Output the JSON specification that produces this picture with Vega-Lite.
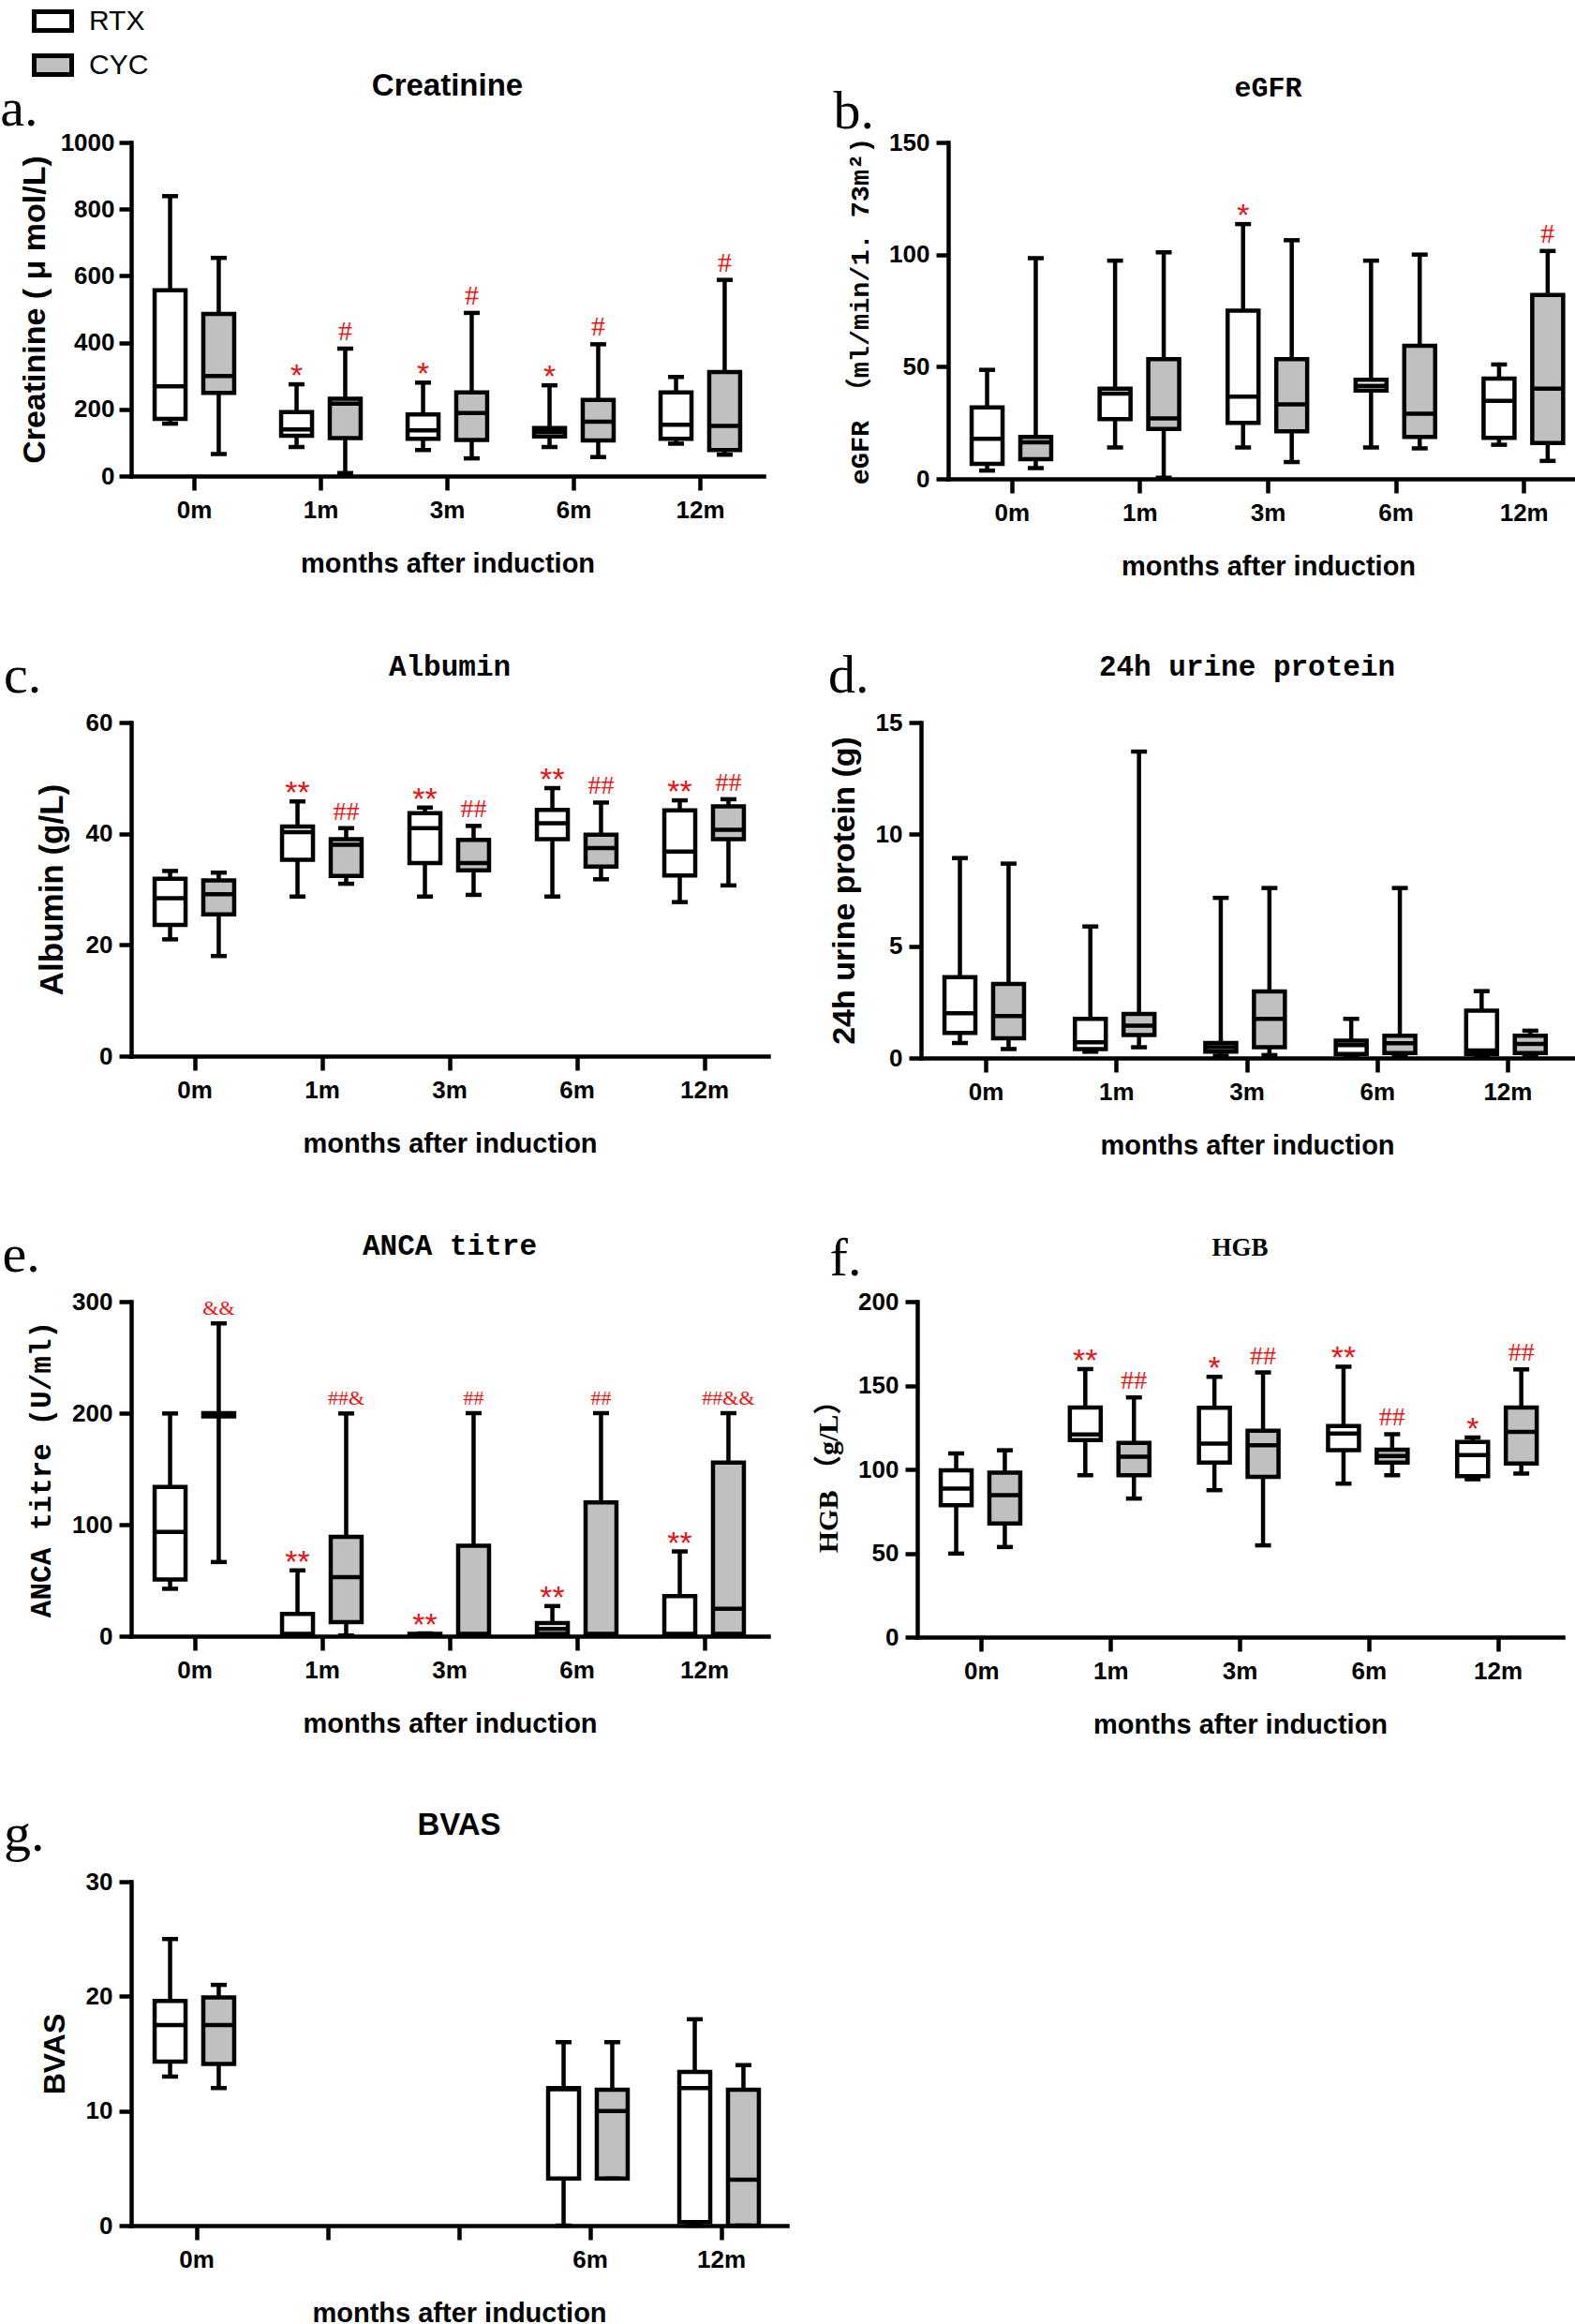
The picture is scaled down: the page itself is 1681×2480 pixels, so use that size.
{
"$schema": "https://vega.github.io/schema/vega-lite/v6.json",
"background": "white",
"padding": {"top": 0, "left": 0, "right": 0, "bottom": 0},
"config": {
  "view": {"stroke": null},
  "axis": {"grid": false, "domainColor": "black", "domainWidth": 4.5, "domainCap": "square", "tickColor": "black", "tickWidth": 4.5, "tickSize": 13, "labelFont": "Liberation Sans", "labelFontWeight": "bold", "labelFontSize": 26, "labelColor": "black", "titleColor": "black", "titleFont": "Liberation Sans", "titleFontWeight": "bold", "titleFontSize": 29},
  "axisX": {"labelAngle": 0, "labelPadding": 8, "titlePadding": 30, "tickSize": 15},
  "axisY": {"labelPadding": 7, "titlePadding": 16, "format": "d"},
  "title": {"color": "black"}
},
"datasets": {
"d": [
{"panel":"a","month":"0m","group":"RTX","min":157,"q1":171,"median":269,"q3":557,"max":839},
{"panel":"a","month":"0m","group":"CYC","min":66,"q1":249,"median":300,"q3":486,"max":654},
{"panel":"a","month":"1m","group":"RTX","min":87,"q1":121,"median":140,"q3":192,"max":275,"sig":"*"},
{"panel":"a","month":"1m","group":"CYC","min":9,"q1":114,"median":217,"q3":232,"max":382,"sig":"#"},
{"panel":"a","month":"3m","group":"RTX","min":78,"q1":112,"median":137,"q3":185,"max":280,"sig":"*"},
{"panel":"a","month":"3m","group":"CYC","min":53,"q1":108,"median":189,"q3":251,"max":489,"sig":"#"},
{"panel":"a","month":"6m","group":"RTX","min":87,"q1":119,"median":132,"q3":144,"max":272,"sig":"*"},
{"panel":"a","month":"6m","group":"CYC","min":57,"q1":107,"median":163,"q3":228,"max":395,"sig":"#"},
{"panel":"a","month":"12m","group":"RTX","min":97,"q1":112,"median":154,"q3":251,"max":297},
{"panel":"a","month":"12m","group":"CYC","min":64,"q1":78,"median":150,"q3":312,"max":588,"sig":"#"},
{"panel":"b","month":"0m","group":"RTX","min":3.7,"q1":6.7,"median":17.9,"q3":31.9,"max":48.6},
{"panel":"b","month":"0m","group":"CYC","min":4.8,"q1":8.8,"median":16.3,"q3":18.7,"max":98.4},
{"panel":"b","month":"1m","group":"RTX","min":14,"q1":26.6,"median":38,"q3":40.2,"max":97.3},
{"panel":"b","month":"1m","group":"CYC","min":0.5,"q1":22.3,"median":27,"q3":53.4,"max":101},
{"panel":"b","month":"3m","group":"RTX","min":14,"q1":25,"median":36.7,"q3":75,"max":113.6,"sig":"*"},
{"panel":"b","month":"3m","group":"CYC","min":7.5,"q1":21.2,"median":33.2,"q3":53.4,"max":106.4},
{"panel":"b","month":"6m","group":"RTX","min":14,"q1":39.4,"median":41.5,"q3":44.2,"max":97.3},
{"panel":"b","month":"6m","group":"CYC","min":13.6,"q1":18.7,"median":29,"q3":59.3,"max":100},
{"panel":"b","month":"12m","group":"RTX","min":15.2,"q1":18.3,"median":34.8,"q3":44.7,"max":51},
{"panel":"b","month":"12m","group":"CYC","min":8,"q1":16,"median":40.2,"q3":82,"max":101.6,"sig":"#"},
{"panel":"c","month":"0m","group":"RTX","min":21,"q1":23.6,"median":28.4,"q3":31.9,"max":33.3},
{"panel":"c","month":"0m","group":"CYC","min":18,"q1":25.5,"median":29.1,"q3":31.6,"max":33},
{"panel":"c","month":"1m","group":"RTX","min":28.7,"q1":35.3,"median":40.3,"q3":41.3,"max":45.8,"sig":"**"},
{"panel":"c","month":"1m","group":"CYC","min":31,"q1":32.4,"median":38,"q3":39,"max":41,"sig":"##"},
{"panel":"c","month":"3m","group":"RTX","min":28.7,"q1":34.7,"median":41,"q3":43.7,"max":44.7,"sig":"**"},
{"panel":"c","month":"3m","group":"CYC","min":29,"q1":33.4,"median":34.7,"q3":38.9,"max":41.4,"sig":"##"},
{"panel":"c","month":"6m","group":"RTX","min":28.7,"q1":39,"median":41.9,"q3":44.3,"max":48.2,"sig":"**"},
{"panel":"c","month":"6m","group":"CYC","min":31.8,"q1":34.1,"median":37.4,"q3":39.8,"max":45.6,"sig":"##"},
{"panel":"c","month":"12m","group":"RTX","min":27.7,"q1":32.5,"median":36.8,"q3":44.2,"max":46,"sig":"**"},
{"panel":"c","month":"12m","group":"CYC","min":30.7,"q1":39,"median":40.7,"q3":44.9,"max":46.2,"sig":"##"},
{"panel":"d","month":"0m","group":"RTX","min":0.67,"q1":1.12,"median":2.0,"q3":3.61,"max":8.94},
{"panel":"d","month":"0m","group":"CYC","min":0.4,"q1":0.88,"median":1.87,"q3":3.31,"max":8.69},
{"panel":"d","month":"1m","group":"RTX","min":0.28,"q1":0.4,"median":0.7,"q3":1.75,"max":5.88},
{"panel":"d","month":"1m","group":"CYC","min":0.48,"q1":1.03,"median":1.45,"q3":1.97,"max":13.7},
{"panel":"d","month":"3m","group":"RTX","min":0.1,"q1":0.28,"median":0.48,"q3":0.67,"max":7.16},
{"panel":"d","month":"3m","group":"CYC","min":0.13,"q1":0.48,"median":1.75,"q3":2.97,"max":7.6},
{"panel":"d","month":"6m","group":"RTX","min":0.1,"q1":0.18,"median":0.58,"q3":0.78,"max":1.75},
{"panel":"d","month":"6m","group":"CYC","min":0.1,"q1":0.22,"median":0.66,"q3":1.0,"max":7.6},
{"panel":"d","month":"12m","group":"RTX","min":0.1,"q1":0.18,"median":0.33,"q3":2.12,"max":2.99},
{"panel":"d","month":"12m","group":"CYC","min":0.13,"q1":0.22,"median":0.63,"q3":1.0,"max":1.22},
{"panel":"e","month":"0m","group":"RTX","min":42.5,"q1":50.9,"median":93.4,"q3":133.8,"max":199.7},
{"panel":"e","month":"0m","group":"CYC","min":66.5,"q1":197,"median":199,"q3":200,"max":280.5,"sig":"&&"},
{"panel":"e","month":"1m","group":"RTX","min":0.5,"q1":1,"median":2,"q3":20,"max":59,"sig":"**"},
{"panel":"e","month":"1m","group":"CYC","min":0.6,"q1":12.6,"median":53,"q3":89,"max":199.7,"sig":"##&"},
{"panel":"e","month":"3m","group":"RTX","min":0.5,"q1":1,"median":1.5,"q3":2,"max":2.5,"sig":"**"},
{"panel":"e","month":"3m","group":"CYC","min":0.5,"q1":1,"median":2,"q3":81,"max":200,"sig":"##"},
{"panel":"e","month":"6m","group":"RTX","min":0.6,"q1":2,"median":6.6,"q3":11.7,"max":27,"sig":"**"},
{"panel":"e","month":"6m","group":"CYC","min":0.5,"q1":1,"median":2,"q3":120,"max":200,"sig":"##"},
{"panel":"e","month":"12m","group":"RTX","min":0.5,"q1":1,"median":2,"q3":36,"max":76,"sig":"**"},
{"panel":"e","month":"12m","group":"CYC","min":0.5,"q1":2,"median":24.5,"q3":155.7,"max":200,"sig":"##&&"},
{"panel":"f","month":"0m","group":"RTX","min":49.8,"q1":78.6,"median":88.6,"q3":99.5,"max":109.5},
{"panel":"f","month":"0m","group":"CYC","min":53.7,"q1":67.7,"median":84.6,"q3":98.1,"max":111.4},
{"panel":"f","month":"1m","group":"RTX","min":96.5,"q1":117.4,"median":120.8,"q3":136.9,"max":159.8,"sig":"**"},
{"panel":"f","month":"1m","group":"CYC","min":82.6,"q1":96.5,"median":107.5,"q3":115.8,"max":142.9,"sig":"##"},
{"panel":"f","month":"3m","group":"RTX","min":87.6,"q1":104.1,"median":115.4,"q3":136.7,"max":155.2,"sig":"*"},
{"panel":"f","month":"3m","group":"CYC","min":54.7,"q1":95.5,"median":114.4,"q3":123,"max":157.8,"sig":"##"},
{"panel":"f","month":"6m","group":"RTX","min":91.5,"q1":111.4,"median":121.4,"q3":125.8,"max":161.2,"sig":"**"},
{"panel":"f","month":"6m","group":"CYC","min":96.5,"q1":104,"median":108,"q3":111.8,"max":121,"sig":"##"},
{"panel":"f","month":"12m","group":"RTX","min":94.1,"q1":95.9,"median":108.5,"q3":116.4,"max":119,"sig":"*"},
{"panel":"f","month":"12m","group":"CYC","min":97.5,"q1":103.5,"median":122.4,"q3":136.9,"max":159.6,"sig":"##"},
{"panel":"g","month":"0m","group":"RTX","min":13,"q1":14.3,"median":17.5,"q3":19.6,"max":25},
{"panel":"g","month":"0m","group":"CYC","min":12,"q1":14.1,"median":17.5,"q3":19.9,"max":21},
{"panel":"g","month":"6m","group":"RTX","min":0,"q1":4.1,"median":11.9,"q3":12,"max":16},
{"panel":"g","month":"6m","group":"CYC","min":4.1,"q1":4.1,"median":10,"q3":11.85,"max":16},
{"panel":"g","month":"12m","group":"RTX","min":0,"q1":0.3,"median":12,"q3":13.4,"max":18},
{"panel":"g","month":"12m","group":"CYC","min":0,"q1":0,"median":4,"q3":11.85,"max":14}
]
},
"align": "none",
"spacing": 74,
"vconcat": [
{"spacing": 74, "hconcat": [
 {"title": {"text": "a.", "anchor": "start", "frame": "bounds", "font": "Liberation Serif", "fontSize": 58, "fontWeight": "normal", "offset": 0, "dy": 70, "dx": -20},
  "vconcat": [{
   "width": 675, "height": 356,
   "title": {"text": "Creatinine", "font": "Liberation Sans", "fontSize": 33, "fontWeight": "bold", "offset": 30},
   "data": {"name": "d"},
   "transform": [{"filter": "datum.panel == 'a'"}],
   "encoding": {
     "x": {"field": "month", "type": "ordinal", "scale": {"domain": ["0m","1m","3m","6m","12m"], "paddingInner": 0, "paddingOuter": 0}, "title": "months after induction"},
     "xOffset": {"field": "group", "type": "nominal", "scale": {"domain": ["RTX","CYC"], "paddingInner": 0, "paddingOuter": 0.3}}
   },
   "layer": [
     {"mark": {"type": "rule", "color": "black", "strokeWidth": 4.5}, "encoding": {"y": {"field": "min", "type": "quantitative", "title": "Creatinine ( μ mol/L)", "scale": {"domain": [0,1000], "nice": false}, "axis": {"values": [0,200,400,600,800,1000], "titleFontSize": 34, "titlePadding": 10, "labelPadding": 5}}, "y2": {"field": "max"}}},
     {"mark": {"type": "bar", "size": 33, "stroke": "black", "strokeWidth": 4.5}, "encoding": {"y": {"field": "q1", "type": "quantitative", "title": "Creatinine ( μ mol/L)"}, "y2": {"field": "q3"}, "fill": {"field": "group", "type": "nominal", "scale": {"domain": ["RTX","CYC"], "range": ["#ffffff","#c0c0c0"]}, "legend": {"orient": "none", "legendX": -106, "legendY": -152, "title": null, "symbolType": "M-1,-0.5H1V0.5H-1Z", "symbolSize": 1600, "symbolStrokeColor": "black", "symbolStrokeWidth": 5, "symbolOpacity": 1, "labelFont": "Liberation Sans", "labelFontSize": 30, "labelFontWeight": "normal", "labelColor": "black", "rowPadding": 4, "labelOffset": 16}}}},
     {"mark": {"type": "tick", "size": 33, "thickness": 4.5, "color": "black", "opacity": 1}, "encoding": {"y": {"field": "median", "type": "quantitative", "title": "Creatinine ( μ mol/L)"}}},
     {"mark": {"type": "tick", "size": 17, "thickness": 4.5, "color": "black", "opacity": 1}, "encoding": {"y": {"field": "min", "type": "quantitative", "title": "Creatinine ( μ mol/L)"}}},
     {"mark": {"type": "tick", "size": 17, "thickness": 4.5, "color": "black", "opacity": 1}, "encoding": {"y": {"field": "max", "type": "quantitative", "title": "Creatinine ( μ mol/L)"}}},
     {"transform": [{"filter": "datum.group == 'RTX' && isValid(datum.sig)"}], "mark": {"type": "text", "font": "Liberation Sans", "fontSize": 34, "color": "#ee1111", "baseline": "alphabetic", "dy": 2}, "encoding": {"y": {"field": "max", "type": "quantitative", "title": "Creatinine ( μ mol/L)"}, "text": {"field": "sig"}}},
     {"transform": [{"filter": "datum.group == 'CYC' && isValid(datum.sig)"}], "mark": {"type": "text", "font": "Liberation Serif", "fontSize": 30, "color": "#ee1111", "baseline": "alphabetic", "dy": -9}, "encoding": {"y": {"field": "max", "type": "quantitative", "title": "Creatinine ( μ mol/L)"}, "text": {"field": "sig"}}}
   ]
  }]
 },
 {"title": {"text": "b.", "anchor": "start", "frame": "bounds", "font": "Liberation Serif", "fontSize": 58, "fontWeight": "normal", "offset": 0, "dy": 70, "dx": -14},
  "vconcat": [{
   "width": 683, "height": 359,
   "title": {"text": "eGFR", "font": "Liberation Mono", "fontSize": 30, "fontWeight": "bold", "offset": 30},
   "data": {"name": "d"},
   "transform": [{"filter": "datum.panel == 'b'"}],
   "encoding": {
     "x": {"field": "month", "type": "ordinal", "scale": {"domain": ["0m","1m","3m","6m","12m"], "paddingInner": 0, "paddingOuter": 0}, "title": "months after induction"},
     "xOffset": {"field": "group", "type": "nominal", "scale": {"domain": ["RTX","CYC"], "paddingInner": 0, "paddingOuter": 0.3}}
   },
   "layer": [
     {"mark": {"type": "rule", "color": "black", "strokeWidth": 4.5}, "encoding": {"y": {"field": "min", "type": "quantitative", "title": "eGFR （ml/min/1. 73m²)", "scale": {"domain": [0,150], "nice": false}, "axis": {"values": [0,50,100,150], "titleFont": "Liberation Mono, Noto Sans CJK SC", "titleFontSize": 28.5}}, "y2": {"field": "max"}}},
     {"mark": {"type": "bar", "size": 33, "stroke": "black", "strokeWidth": 4.5}, "encoding": {"y": {"field": "q1", "type": "quantitative", "title": "eGFR （ml/min/1. 73m²)"}, "y2": {"field": "q3"}, "fill": {"field": "group", "type": "nominal", "scale": {"domain": ["RTX","CYC"], "range": ["#ffffff","#c0c0c0"]}}}},
     {"mark": {"type": "tick", "size": 33, "thickness": 4.5, "color": "black", "opacity": 1}, "encoding": {"y": {"field": "median", "type": "quantitative", "title": "eGFR （ml/min/1. 73m²)"}}},
     {"mark": {"type": "tick", "size": 17, "thickness": 4.5, "color": "black", "opacity": 1}, "encoding": {"y": {"field": "min", "type": "quantitative", "title": "eGFR （ml/min/1. 73m²)"}}},
     {"mark": {"type": "tick", "size": 17, "thickness": 4.5, "color": "black", "opacity": 1}, "encoding": {"y": {"field": "max", "type": "quantitative", "title": "eGFR （ml/min/1. 73m²)"}}},
     {"transform": [{"filter": "datum.group == 'RTX' && isValid(datum.sig)"}], "mark": {"type": "text", "font": "Liberation Sans", "fontSize": 34, "color": "#ee1111", "baseline": "alphabetic", "dy": 2}, "encoding": {"y": {"field": "max", "type": "quantitative", "title": "eGFR （ml/min/1. 73m²)"}, "text": {"field": "sig"}}},
     {"transform": [{"filter": "datum.group == 'CYC' && isValid(datum.sig)"}], "mark": {"type": "text", "font": "Liberation Serif", "fontSize": 30, "color": "#ee1111", "baseline": "alphabetic", "dy": -9}, "encoding": {"y": {"field": "max", "type": "quantitative", "title": "eGFR （ml/min/1. 73m²)"}, "text": {"field": "sig"}}}
   ]
  }]
 }
]},
{"spacing": 64, "hconcat": [
 {"title": {"text": "c.", "anchor": "start", "frame": "bounds", "font": "Liberation Serif", "fontSize": 58, "fontWeight": "normal", "offset": 0, "dy": 55, "dx": -34},
  "vconcat": [{
   "width": 680, "height": 356,
   "title": {"text": "Albumin", "font": "Liberation Mono", "fontSize": 31, "fontWeight": "bold", "offset": 30},
   "data": {"name": "d"},
   "transform": [{"filter": "datum.panel == 'c'"}],
   "encoding": {
     "x": {"field": "month", "type": "ordinal", "scale": {"domain": ["0m","1m","3m","6m","12m"], "paddingInner": 0, "paddingOuter": 0}, "title": "months after induction"},
     "xOffset": {"field": "group", "type": "nominal", "scale": {"domain": ["RTX","CYC"], "paddingInner": 0, "paddingOuter": 0.3}}
   },
   "layer": [
     {"mark": {"type": "rule", "color": "black", "strokeWidth": 4.5}, "encoding": {"y": {"field": "min", "type": "quantitative", "title": "Albumin (g/L)", "scale": {"domain": [0,60], "nice": false}, "axis": {"values": [0,20,40,60], "titleFontSize": 35, "titlePadding": 18}}, "y2": {"field": "max"}}},
     {"mark": {"type": "bar", "size": 33, "stroke": "black", "strokeWidth": 4.5}, "encoding": {"y": {"field": "q1", "type": "quantitative", "title": "Albumin (g/L)"}, "y2": {"field": "q3"}, "fill": {"field": "group", "type": "nominal", "scale": {"domain": ["RTX","CYC"], "range": ["#ffffff","#c0c0c0"]}}}},
     {"mark": {"type": "tick", "size": 33, "thickness": 4.5, "color": "black", "opacity": 1}, "encoding": {"y": {"field": "median", "type": "quantitative", "title": "Albumin (g/L)"}}},
     {"mark": {"type": "tick", "size": 17, "thickness": 4.5, "color": "black", "opacity": 1}, "encoding": {"y": {"field": "min", "type": "quantitative", "title": "Albumin (g/L)"}}},
     {"mark": {"type": "tick", "size": 17, "thickness": 4.5, "color": "black", "opacity": 1}, "encoding": {"y": {"field": "max", "type": "quantitative", "title": "Albumin (g/L)"}}},
     {"transform": [{"filter": "datum.group == 'RTX' && isValid(datum.sig)"}], "mark": {"type": "text", "font": "Liberation Sans", "fontSize": 34, "color": "#ee1111", "baseline": "alphabetic", "dy": 2}, "encoding": {"y": {"field": "max", "type": "quantitative", "title": "Albumin (g/L)"}, "text": {"field": "sig"}}},
     {"transform": [{"filter": "datum.group == 'CYC' && isValid(datum.sig)"}], "mark": {"type": "text", "font": "Liberation Serif", "fontSize": 28, "color": "#ee1111", "baseline": "alphabetic", "dy": -9}, "encoding": {"y": {"field": "max", "type": "quantitative", "title": "Albumin (g/L)"}, "text": {"field": "sig"}}}
   ]
  }]
 },
 {"title": {"text": "d.", "anchor": "start", "frame": "bounds", "font": "Liberation Serif", "fontSize": 58, "fontWeight": "normal", "offset": 0, "dy": 55, "dx": 0},
  "vconcat": [{
   "width": 696, "height": 358,
   "title": {"text": "24h urine protein", "font": "Liberation Mono", "fontSize": 31, "fontWeight": "bold", "offset": 30},
   "data": {"name": "d"},
   "transform": [{"filter": "datum.panel == 'd'"}],
   "encoding": {
     "x": {"field": "month", "type": "ordinal", "scale": {"domain": ["0m","1m","3m","6m","12m"], "paddingInner": 0, "paddingOuter": 0}, "title": "months after induction"},
     "xOffset": {"field": "group", "type": "nominal", "scale": {"domain": ["RTX","CYC"], "paddingInner": 0, "paddingOuter": 0.3}}
   },
   "layer": [
     {"mark": {"type": "rule", "color": "black", "strokeWidth": 4.5}, "encoding": {"y": {"field": "min", "type": "quantitative", "title": "24h urine protein (g)", "scale": {"domain": [0,15], "nice": false}, "axis": {"values": [0,5,10,15], "titleFontSize": 34}}, "y2": {"field": "max"}}},
     {"mark": {"type": "bar", "size": 33, "stroke": "black", "strokeWidth": 4.5}, "encoding": {"y": {"field": "q1", "type": "quantitative", "title": "24h urine protein (g)"}, "y2": {"field": "q3"}, "fill": {"field": "group", "type": "nominal", "scale": {"domain": ["RTX","CYC"], "range": ["#ffffff","#c0c0c0"]}}}},
     {"mark": {"type": "tick", "size": 33, "thickness": 4.5, "color": "black", "opacity": 1}, "encoding": {"y": {"field": "median", "type": "quantitative", "title": "24h urine protein (g)"}}},
     {"mark": {"type": "tick", "size": 17, "thickness": 4.5, "color": "black", "opacity": 1}, "encoding": {"y": {"field": "min", "type": "quantitative", "title": "24h urine protein (g)"}}},
     {"mark": {"type": "tick", "size": 17, "thickness": 4.5, "color": "black", "opacity": 1}, "encoding": {"y": {"field": "max", "type": "quantitative", "title": "24h urine protein (g)"}}}
   ]
  }]
 }
]},
{"spacing": 49, "hconcat": [
 {"title": {"text": "e.", "anchor": "start", "frame": "bounds", "font": "Liberation Serif", "fontSize": 58, "fontWeight": "normal", "offset": 0, "dy": 55, "dx": -26},
  "vconcat": [{
   "width": 680, "height": 357,
   "title": {"text": "ANCA titre", "font": "Liberation Mono", "fontSize": 31, "fontWeight": "bold", "offset": 30},
   "data": {"name": "d"},
   "transform": [{"filter": "datum.panel == 'e'"}],
   "encoding": {
     "x": {"field": "month", "type": "ordinal", "scale": {"domain": ["0m","1m","3m","6m","12m"], "paddingInner": 0, "paddingOuter": 0}, "title": "months after induction"},
     "xOffset": {"field": "group", "type": "nominal", "scale": {"domain": ["RTX","CYC"], "paddingInner": 0, "paddingOuter": 0.3}}
   },
   "layer": [
     {"mark": {"type": "rule", "color": "black", "strokeWidth": 4.5}, "encoding": {"y": {"field": "min", "type": "quantitative", "title": "ANCA  titre  (U/ml)", "scale": {"domain": [0,300], "nice": false}, "axis": {"values": [0,100,200,300], "titleFont": "Liberation Mono", "titleFontSize": 31}}, "y2": {"field": "max"}}},
     {"mark": {"type": "bar", "size": 33, "stroke": "black", "strokeWidth": 4.5}, "encoding": {"y": {"field": "q1", "type": "quantitative", "title": "ANCA  titre  (U/ml)"}, "y2": {"field": "q3"}, "fill": {"field": "group", "type": "nominal", "scale": {"domain": ["RTX","CYC"], "range": ["#ffffff","#c0c0c0"]}}}},
     {"mark": {"type": "tick", "size": 33, "thickness": 4.5, "color": "black", "opacity": 1}, "encoding": {"y": {"field": "median", "type": "quantitative", "title": "ANCA  titre  (U/ml)"}}},
     {"mark": {"type": "tick", "size": 17, "thickness": 4.5, "color": "black", "opacity": 1}, "encoding": {"y": {"field": "min", "type": "quantitative", "title": "ANCA  titre  (U/ml)"}}},
     {"mark": {"type": "tick", "size": 17, "thickness": 4.5, "color": "black", "opacity": 1}, "encoding": {"y": {"field": "max", "type": "quantitative", "title": "ANCA  titre  (U/ml)"}}},
     {"transform": [{"filter": "datum.group == 'RTX' && isValid(datum.sig)"}], "mark": {"type": "text", "font": "Liberation Sans", "fontSize": 34, "color": "#ee1111", "baseline": "alphabetic", "dy": 2}, "encoding": {"y": {"field": "max", "type": "quantitative", "title": "ANCA  titre  (U/ml)"}, "text": {"field": "sig"}}},
     {"transform": [{"filter": "datum.group == 'CYC' && isValid(datum.sig)"}], "mark": {"type": "text", "font": "Liberation Serif", "fontSize": 22, "color": "#ee1111", "baseline": "alphabetic", "dy": -9}, "encoding": {"y": {"field": "max", "type": "quantitative", "title": "ANCA  titre  (U/ml)"}, "text": {"field": "sig"}}}
   ]
  }]
 },
 {"title": {"text": "f.", "anchor": "start", "frame": "bounds", "font": "Liberation Serif", "fontSize": 58, "fontWeight": "normal", "offset": 0, "dy": 55, "dx": 16},
  "vconcat": [{
   "width": 689, "height": 358,
   "title": {"text": "HGB", "font": "Liberation Serif", "fontSize": 27, "fontWeight": "bold", "offset": 30},
   "data": {"name": "d"},
   "transform": [{"filter": "datum.panel == 'f'"}],
   "encoding": {
     "x": {"field": "month", "type": "ordinal", "scale": {"domain": ["0m","1m","3m","6m","12m"], "paddingInner": 0, "paddingOuter": 0}, "title": "months after induction"},
     "xOffset": {"field": "group", "type": "nominal", "scale": {"domain": ["RTX","CYC"], "paddingInner": 0, "paddingOuter": 0.3}}
   },
   "layer": [
     {"mark": {"type": "rule", "color": "black", "strokeWidth": 4.5}, "encoding": {"y": {"field": "min", "type": "quantitative", "title": "HGB （g/L）", "scale": {"domain": [0,200], "nice": false}, "axis": {"values": [0,50,100,150,200], "titleFont": "Liberation Serif, Noto Sans CJK SC", "titleFontSize": 30}}, "y2": {"field": "max"}}},
     {"mark": {"type": "bar", "size": 33, "stroke": "black", "strokeWidth": 4.5}, "encoding": {"y": {"field": "q1", "type": "quantitative", "title": "HGB （g/L）"}, "y2": {"field": "q3"}, "fill": {"field": "group", "type": "nominal", "scale": {"domain": ["RTX","CYC"], "range": ["#ffffff","#c0c0c0"]}}}},
     {"mark": {"type": "tick", "size": 33, "thickness": 4.5, "color": "black", "opacity": 1}, "encoding": {"y": {"field": "median", "type": "quantitative", "title": "HGB （g/L）"}}},
     {"mark": {"type": "tick", "size": 17, "thickness": 4.5, "color": "black", "opacity": 1}, "encoding": {"y": {"field": "min", "type": "quantitative", "title": "HGB （g/L）"}}},
     {"mark": {"type": "tick", "size": 17, "thickness": 4.5, "color": "black", "opacity": 1}, "encoding": {"y": {"field": "max", "type": "quantitative", "title": "HGB （g/L）"}}},
     {"transform": [{"filter": "datum.group == 'RTX' && isValid(datum.sig)"}], "mark": {"type": "text", "font": "Liberation Sans", "fontSize": 34, "color": "#ee1111", "baseline": "alphabetic", "dy": 2}, "encoding": {"y": {"field": "max", "type": "quantitative", "title": "HGB （g/L）"}, "text": {"field": "sig"}}},
     {"transform": [{"filter": "datum.group == 'CYC' && isValid(datum.sig)"}], "mark": {"type": "text", "font": "Liberation Serif", "fontSize": 28, "color": "#ee1111", "baseline": "alphabetic", "dy": -9}, "encoding": {"y": {"field": "max", "type": "quantitative", "title": "HGB （g/L）"}, "text": {"field": "sig"}}}
   ]
  }]
 }
]},
{"hconcat": [
 {"title": {"text": "g.", "anchor": "start", "frame": "bounds", "font": "Liberation Serif", "fontSize": 58, "fontWeight": "normal", "offset": 0, "dy": 55, "dx": -38},
  "vconcat": [{
   "width": 700, "height": 367,
   "title": {"text": "BVAS", "font": "Liberation Sans", "fontSize": 33, "fontWeight": "bold", "offset": 30},
   "data": {"name": "d"},
   "transform": [{"filter": "datum.panel == 'g'"}],
   "encoding": {
     "x": {"field": "month", "type": "ordinal", "scale": {"domain": ["0m","1m","3m","6m","12m"], "paddingInner": 0, "paddingOuter": 0}, "title": "months after induction", "axis": {"labelExpr": "datum.value == '1m' || datum.value == '3m' ? '' : datum.label"}},
     "xOffset": {"field": "group", "type": "nominal", "scale": {"domain": ["RTX","CYC"], "paddingInner": 0, "paddingOuter": 0.3}}
   },
   "layer": [
     {"mark": {"type": "rule", "color": "black", "strokeWidth": 4.5}, "encoding": {"y": {"field": "min", "type": "quantitative", "title": "BVAS", "scale": {"domain": [0,30], "nice": false}, "axis": {"values": [0,10,20,30], "titleFontSize": 32}}, "y2": {"field": "max"}}},
     {"mark": {"type": "bar", "size": 33, "stroke": "black", "strokeWidth": 4.5}, "encoding": {"y": {"field": "q1", "type": "quantitative", "title": "BVAS"}, "y2": {"field": "q3"}, "fill": {"field": "group", "type": "nominal", "scale": {"domain": ["RTX","CYC"], "range": ["#ffffff","#c0c0c0"]}}}},
     {"mark": {"type": "tick", "size": 33, "thickness": 4.5, "color": "black", "opacity": 1}, "encoding": {"y": {"field": "median", "type": "quantitative", "title": "BVAS"}}},
     {"mark": {"type": "tick", "size": 17, "thickness": 4.5, "color": "black", "opacity": 1}, "encoding": {"y": {"field": "min", "type": "quantitative", "title": "BVAS"}}},
     {"mark": {"type": "tick", "size": 17, "thickness": 4.5, "color": "black", "opacity": 1}, "encoding": {"y": {"field": "max", "type": "quantitative", "title": "BVAS"}}}
   ]
  }]
 }
]}
]
}
